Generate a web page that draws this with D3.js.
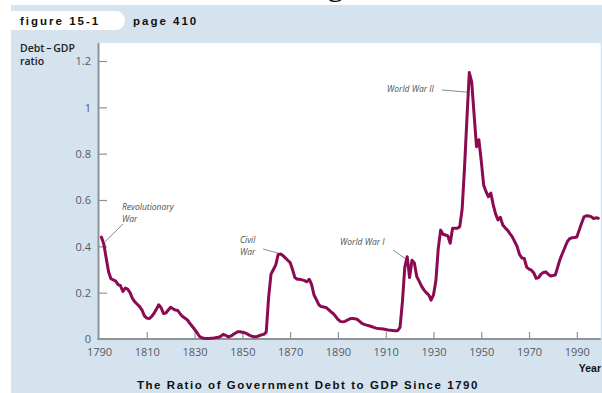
<!DOCTYPE html>
<html>
<head>
<meta charset="utf-8">
<script src="https://cdn.jsdelivr.net/npm/d3@7"></script>
<style>
  html, body { margin: 0; padding: 0; background: #ffffff; }
  svg { display: block; }
</style>
</head>
<body>
<svg id="chart" width="602" height="393"></svg>
<script>
// Debt-to-GDP ratio, United States, 1791-1999
const years = [
  1791,1792,1793,1794,1795,1796,1797,1798,1799,1800,
  1801,1802,1803,1804,1805,1806,1807,1808,1809,1810,
  1811,1812,1813,1814,1815,1816,1817,1818,1819,1820,
  1821,1822,1823,1824,1825,1826,1827,1828,1829,1830,
  1831,1832,1833,1834,1835,1836,1837,1838,1839,1840,
  1841,1842,1843,1844,1845,1846,1847,1848,1849,1850,
  1851,1852,1853,1854,1855,1856,1857,1858,1859,1860,
  1861,1862,1863,1864,1865,1866,1867,1868,1869,1870,
  1871,1872,1873,1874,1875,1876,1877,1878,1879,1880,
  1881,1882,1883,1884,1885,1886,1887,1888,1889,1890,
  1891,1892,1893,1894,1895,1896,1897,1898,1899,1900,
  1901,1902,1903,1904,1905,1906,1907,1908,1909,1910,
  1911,1912,1913,1914,1915,1916,1917,1918,1919,1920,
  1921,1922,1923,1924,1925,1926,1927,1928,1929,1930,
  1931,1932,1933,1934,1935,1936,1937,1938,1939,1940,
  1941,1942,1943,1944,1945,1946,1947,1948,1949,1950,
  1951,1952,1953,1954,1955,1956,1957,1958,1959,1960,
  1961,1962,1963,1964,1965,1966,1967,1968,1969,1970,
  1971,1972,1973,1974,1975,1976,1977,1978,1979,1980,
  1981,1982,1983,1984,1985,1986,1987,1988,1989,1990,
  1991,1992,1993,1994,1995,1996,1997,1998,1999
];
const debtRatio = [
  0.44,0.41,0.35,0.29,0.26,0.255,0.25,0.235,0.23,0.205,
  0.22,0.215,0.2,0.175,0.16,0.15,0.14,0.125,0.1,0.09,
  0.088,0.097,0.11,0.128,0.148,0.135,0.11,0.112,0.125,0.137,
  0.13,0.125,0.123,0.108,0.097,0.09,0.082,0.068,0.055,0.042,
  0.028,0.012,0.005,0.003,0.002,0.002,0.003,0.004,0.006,0.007,
  0.012,0.02,0.016,0.01,0.012,0.018,0.025,0.031,0.031,0.029,
  0.027,0.022,0.016,0.012,0.01,0.01,0.014,0.018,0.02,0.03,
  0.18,0.28,0.3,0.32,0.365,0.367,0.36,0.35,0.34,0.33,
  0.3,0.265,0.258,0.258,0.255,0.252,0.247,0.258,0.235,0.19,
  0.17,0.148,0.14,0.138,0.136,0.128,0.118,0.11,0.098,0.085,
  0.076,0.074,0.076,0.082,0.087,0.089,0.087,0.085,0.077,0.068,
  0.063,0.06,0.057,0.054,0.05,0.047,0.045,0.044,0.043,0.041,
  0.039,0.038,0.037,0.036,0.036,0.05,0.16,0.31,0.355,0.265,
  0.34,0.328,0.27,0.25,0.228,0.212,0.2,0.19,0.168,0.19,
  0.25,0.39,0.47,0.452,0.449,0.445,0.413,0.478,0.478,0.478,
  0.485,0.56,0.74,0.95,1.15,1.11,0.97,0.83,0.86,0.77,
  0.665,0.636,0.614,0.63,0.58,0.54,0.514,0.525,0.492,0.48,
  0.47,0.455,0.441,0.42,0.4,0.365,0.35,0.348,0.31,0.302,
  0.297,0.285,0.262,0.265,0.28,0.287,0.29,0.28,0.272,0.274,
  0.276,0.31,0.345,0.37,0.395,0.42,0.433,0.437,0.438,0.44,
  0.47,0.5,0.527,0.532,0.531,0.528,0.52,0.523,0.521
];

const xTickYears = [1790,1810,1830,1850,1870,1890,1910,1930,1950,1970,1990];
const yTickValues = [0,0.2,0.4,0.6,0.8,1,1.2];
const yTickLabels = ["0","0.2","0.4","0.6","0.8","1","1.2"];

// War annotations: label lines, anchor point on the series, label position
const warNotes = [
  { lines: ["Revolutionary","War"], year: 1792.5, value: 0.42, lx: 122, ly: 210, from: [123, 224] },
  { lines: ["Civil","War"], year: 1865.2, value: 0.37, lx: 240, ly: 243, from: [263, 249] },
  { lines: ["World War I"], year: 1919.2, value: 0.34, lx: 340, ly: 245, from: [393, 250] },
  { lines: ["World War II"], year: 1944.9, value: 1.065, lx: 387, ly: 92, from: [442, 90] }
];

const svg = d3.select("#chart");
const W = 602, H = 393;
const plot = { left: 99, right: 600.7, top: 43, bottom: 339 };

const panelBlue = "#d5e3ef";
const lineColor = "#8b0a52";
const axisGray = "#8f9398";
const textGray = "#555a5f";

// Light-blue figure panel
svg.append("rect").attr("x", 11).attr("y", 5).attr("width", W - 11).attr("height", H - 5)
  .attr("fill", panelBlue);

// Header tab with rounded right end
const tab = d3.path();
const tx0 = 11, tx1 = 125, ty0 = 11, ty1 = 30, r = 9;
tab.moveTo(tx0, ty0);
tab.lineTo(tx1 - r, ty0);
tab.arcTo(tx1, ty0, tx1, ty0 + r, r);
tab.lineTo(tx1, ty1 - r);
tab.arcTo(tx1, ty1, tx1 - r, ty1, r);
tab.lineTo(tx0, ty1);
tab.closePath();
svg.append("path").attr("d", tab.toString()).attr("fill", "#ffffff");

svg.append("text").attr("x", 20).attr("y", 24.5)
  .attr("font-family", "'Liberation Sans', Arial, sans-serif")
  .attr("font-weight", 900).attr("font-size", 11.5).attr("letter-spacing", 2)
  .attr("fill", "#111").text("figure 15-1");
svg.append("text").attr("x", 133).attr("y", 24.5)
  .attr("font-family", "'Liberation Sans', Arial, sans-serif")
  .attr("font-weight", 900).attr("font-size", 11.5).attr("letter-spacing", 2)
  .attr("fill", "#111").text("page 410");

// Descender of the page heading, clipped by the top edge
svg.append("text").attr("x", 327).attr("y", -5)
  .attr("font-family", "'Liberation Serif', serif")
  .attr("font-size", 34).attr("fill", "#111").text("g");

// White plotting area
svg.append("rect").attr("x", plot.left).attr("y", plot.top)
  .attr("width", plot.right - plot.left).attr("height", plot.bottom - plot.top)
  .attr("fill", "#ffffff");

const x = d3.scaleLinear().domain([1790, 2000]).range([plot.left, plot.right]);
const y = d3.scaleLinear().domain([0, 1.2]).range([plot.bottom, 61]);

// Y axis: ticks pointing into the plot, labels on the blue side
const yAxis = d3.axisRight(y).tickValues(yTickValues).tickSize(8).tickFormat("");
const gy = svg.append("g").attr("transform", `translate(${plot.left},0)`).call(yAxis);
gy.select(".domain").remove();
gy.selectAll(".tick line").attr("stroke", axisGray).attr("stroke-width", 1.2)
  .filter(d => d === 0).remove();
gy.selectAll(".tick").append("text")
  .attr("x", -8).attr("dy", "0.35em")
  .attr("text-anchor", "end")
  .attr("font-family", "'Open Sans', sans-serif").attr("font-size", 11)
  .attr("fill", textGray)
  .text((d, i) => yTickLabels[i]);
gy.selectAll(".tick").filter(d => d === 0).select("text").attr("dy", "0.15em").attr("x", -10);

svg.append("line").attr("x1", plot.left - 0.5).attr("x2", plot.left - 0.5)
  .attr("y1", plot.top).attr("y2", plot.bottom + 1)
  .attr("stroke", axisGray).attr("stroke-width", 2);

// X axis: ticks pointing up into the plot, labels below
const xAxis = d3.axisTop(x).tickValues(xTickYears).tickSize(7).tickFormat("");
const gx = svg.append("g").attr("transform", `translate(0,${plot.bottom})`).call(xAxis);
gx.select(".domain").remove();
gx.selectAll(".tick line").attr("stroke", axisGray).attr("stroke-width", 1.2)
  .filter(d => d === 1790).remove();
gx.selectAll(".tick").append("text")
  .attr("y", 17).attr("text-anchor", "middle")
  .attr("font-family", "'Open Sans', sans-serif").attr("font-size", 11)
  .attr("fill", textGray)
  .text(d => d);

svg.append("line").attr("x1", plot.left - 1.5).attr("x2", plot.right)
  .attr("y1", plot.bottom).attr("y2", plot.bottom)
  .attr("stroke", axisGray).attr("stroke-width", 2);

// Axis titles
const yTitle = svg.append("text")
  .attr("font-family", "'Open Sans', sans-serif").attr("font-size", 10.5)
  .attr("font-weight", 600).attr("fill", "#222");
yTitle.append("tspan").attr("x", 20).attr("y", 52).text("Debt\u2009\u2013\u2009GDP");
yTitle.append("tspan").attr("x", 20).attr("y", 65).text("ratio");

svg.append("text").attr("x", 601).attr("y", 372).attr("text-anchor", "end")
  .attr("font-family", "'Liberation Sans', Arial, sans-serif")
  .attr("font-weight", 700).attr("font-size", 10.5).attr("fill", "#111")
  .text("Year");

// Figure caption
svg.append("text").attr("x", 308).attr("y", 389).attr("text-anchor", "middle")
  .attr("font-family", "'Liberation Sans', Arial, sans-serif")
  .attr("font-weight", 700).attr("font-size", 11.5).attr("letter-spacing", 1.55)
  .attr("fill", "#111")
  .text("The Ratio of Government Debt to GDP Since 1790");

// Annotation leaders and labels
const notes = svg.append("g");
warNotes.forEach(n => {
  notes.append("line")
    .attr("x1", n.from[0]).attr("y1", n.from[1])
    .attr("x2", x(n.year)).attr("y2", y(n.value))
    .attr("stroke", "#6b6f74").attr("stroke-width", 0.8);
  const t = notes.append("text")
    .attr("font-family", "'Open Sans', sans-serif").attr("font-style", "italic")
    .attr("font-size", 8.5).attr("fill", "#4a4f55");
  n.lines.forEach((s, i) => {
    t.append("tspan").attr("x", n.lx).attr("y", n.ly + i * 11.5).text(s);
  });
});

// Debt-to-GDP series
const series = years.map((yr, i) => ({ year: yr, value: debtRatio[i] }));
const line = d3.line().x(d => x(d.year)).y(d => y(d.value));
svg.append("path").datum(series)
  .attr("d", line)
  .attr("fill", "none")
  .attr("stroke", lineColor)
  .attr("stroke-width", 3)
  .attr("stroke-linejoin", "round")
  .attr("stroke-linecap", "round");
</script>
</body>
</html>
